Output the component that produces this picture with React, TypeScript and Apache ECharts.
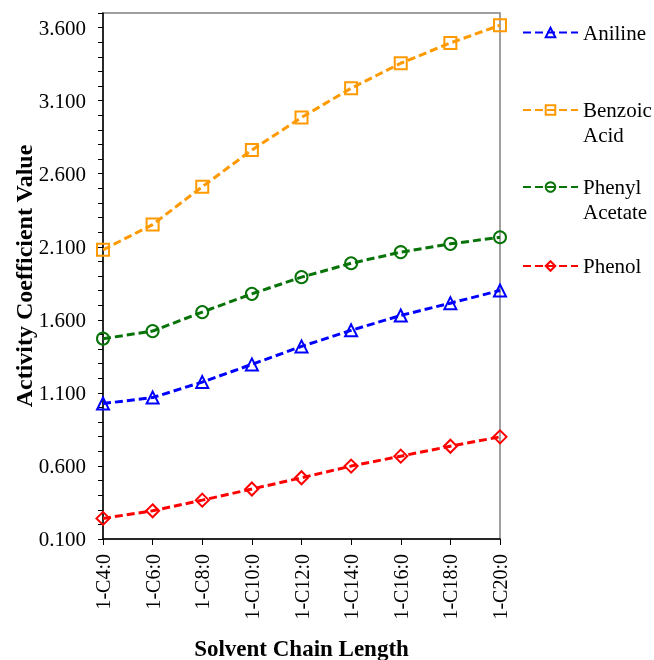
import React, { useEffect, useRef } from "react";
import * as echarts from "echarts";

const categories = ["1-C4:0", "1-C6:0", "1-C8:0", "1-C10:0", "1-C12:0", "1-C14:0", "1-C16:0", "1-C18:0", "1-C20:0"];
const aniline = [1.027, 1.068, 1.174, 1.295, 1.418, 1.528, 1.630, 1.714, 1.801];
const benzoicAcid = [2.079, 2.252, 2.511, 2.762, 2.985, 3.185, 3.356, 3.495, 3.616];
const phenylAcetate = [1.471, 1.523, 1.653, 1.778, 1.892, 1.987, 2.063, 2.120, 2.165];
const phenol = [0.241, 0.293, 0.366, 0.442, 0.519, 0.599, 0.667, 0.735, 0.799];
const yMin = 0.1;
const yMax = 3.7;
const yLabelStep = 0.5;

const FONT = "'Liberation Serif', 'Times New Roman', serif";

export default function App() {
  const ref = useRef<HTMLDivElement>(null);
  useEffect(() => {
    if (!ref.current) return;
    const chart = echarts.init(ref.current, null, { renderer: "svg" });
    const mk = (name: string, data: number[], color: string, symbol: string, size: number) => ({
      name,
      type: "line",
      data,
      symbol,
      symbolSize: size,
      showAllSymbol: true,
      lineStyle: { color, width: 3, type: [8, 4] },
      itemStyle: { color: "rgba(255,255,255,0)", borderColor: color, borderWidth: 2 },
      emphasis: { disabled: true },
      z: 3,
    });
    const legendBase = {
      orient: "vertical",
      left: 522,
      padding: 0,
      itemWidth: 55,
      itemHeight: 12,
      textStyle: { fontFamily: FONT, fontSize: 21, color: "#000", lineHeight: 25 },
      selectedMode: false,
    };
    chart.setOption({
      animation: false,
      textStyle: { fontFamily: FONT },
      grid: {
        left: 103,
        right: 154,
        top: 13,
        bottom: 121,
        containLabel: false,
        outerBoundsMode: "none",
        show: true,
        borderColor: "#808080",
        borderWidth: 1.5,
        backgroundColor: "transparent",
      },
      legend: [
        { ...legendBase, top: 20, data: ["Aniline"] },
        {
          ...legendBase,
          top: 72.5,
          data: ["Benzoic Acid"],
          formatter: () => "\u00a0\nBenzoic\nAcid",
        },
        {
          ...legendBase,
          top: 149.5,
          data: ["Phenyl Acetate"],
          formatter: () => "\u00a0\nPhenyl\nAcetate",
        },
        { ...legendBase, top: 253.5, data: ["Phenol"] },
      ],
      xAxis: {
        type: "category",
        data: categories,
        boundaryGap: false,
        name: "Solvent Chain Length",
        nameLocation: "middle",
        nameGap: 98,
        nameTextStyle: { fontFamily: FONT, fontSize: 23, fontWeight: "bold", color: "#000" },
        axisLine: { lineStyle: { color: "#000", width: 1.5 } },
        axisTick: { show: true, length: 6, alignWithLabel: true, lineStyle: { color: "#000" } },
        axisLabel: { rotate: 90, fontSize: 20, color: "#000", margin: 15, fontFamily: FONT },
        splitLine: { show: false },
      },
      yAxis: {
        type: "value",
        min: yMin,
        max: yMax,
        interval: 0.1,
        name: "Activity Coefficient Value",
        nameLocation: "middle",
        nameGap: 67,
        nameMoveOverlap: false,
        nameTextStyle: { fontFamily: FONT, fontSize: 24, fontWeight: "bold", color: "#000" },
        axisLine: { show: true, lineStyle: { color: "#000", width: 1.5 } },
        axisTick: { show: true, length: 5, lineStyle: { color: "#000" } },
        axisLabel: {
          fontSize: 21,
          color: "#000",
          margin: 17,
          fontFamily: FONT,
          formatter: (v: number) => {
            const k = Math.round((v - yMin) * 10);
            return k % Math.round(yLabelStep * 10) === 0 ? v.toFixed(3) : "";
          },
        },
        splitLine: { show: false },
      },
      series: [
        mk("Aniline", aniline, "#0000FF", "triangle", 12),
        mk("Benzoic Acid", benzoicAcid, "#FF9900", "rect", 12),
        mk("Phenyl Acetate", phenylAcetate, "#087308", "circle", 12),
        mk("Phenol", phenol, "#FF0000", "diamond", 13),
      ],
    });
    return () => chart.dispose();
  }, []);
  return <div ref={ref} style={{ position: "fixed", left: 0, top: 0, width: 654, height: 660 }} />;
}
